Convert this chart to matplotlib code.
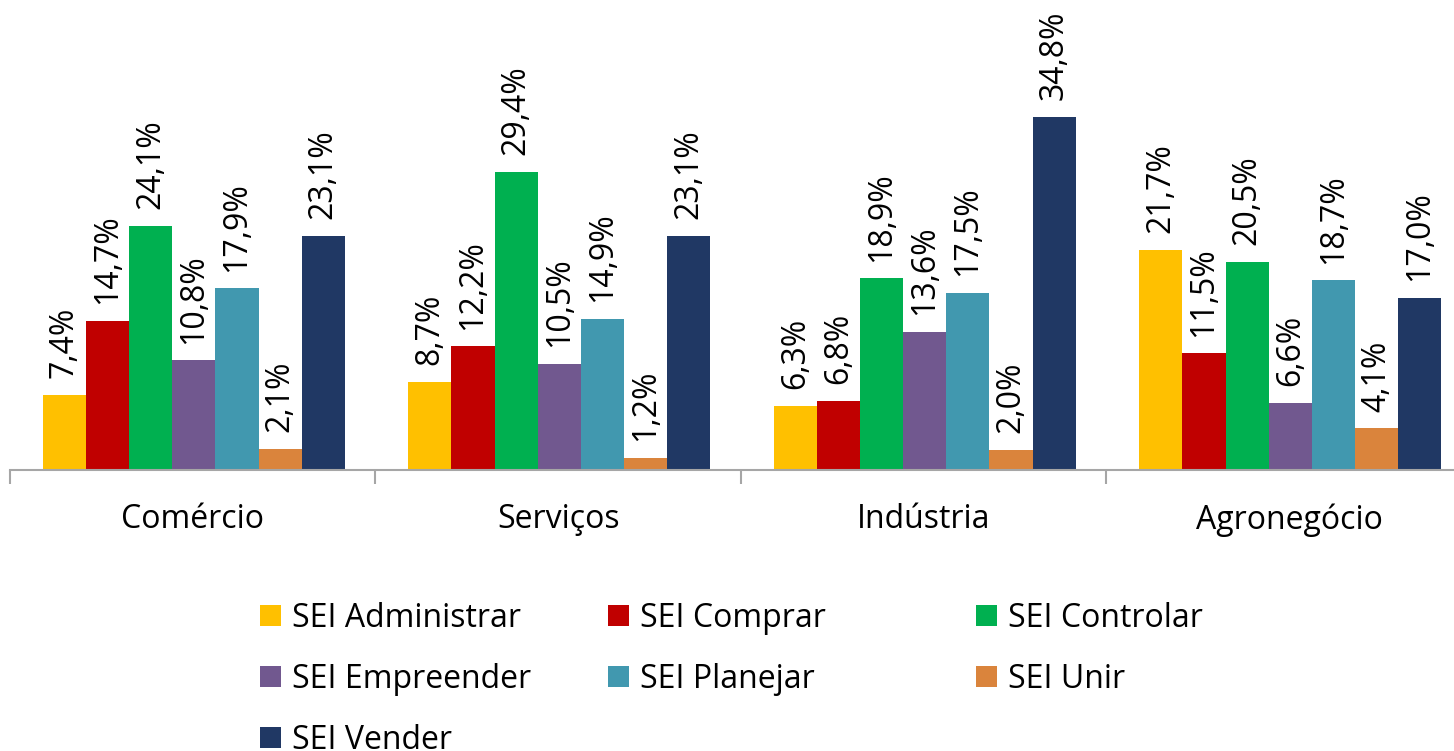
import matplotlib
matplotlib.use("Agg")
import matplotlib.pyplot as plt
import numpy as np

categories = ["Comércio", "Serviços", "Indústria", "Agronegócio"]
series = ["SEI Administrar", "SEI Comprar", "SEI Controlar",
          "SEI Empreender", "SEI Planejar", "SEI Unir", "SEI Vender"]
administrar = [7.4, 8.7, 6.3, 21.7]
comprar = [14.7, 12.2, 6.8, 11.5]
controlar = [24.1, 29.4, 18.9, 20.5]
empreender = [10.8, 10.5, 13.6, 6.6]
planejar = [17.9, 14.9, 17.5, 18.7]
unir = [2.1, 1.2, 2.0, 4.1]
vender = [23.1, 23.1, 34.8, 17.0]
values = [administrar, comprar, controlar, empreender, planejar, unir, vender]
colors = ["#FFC000", "#C00000", "#00B050", "#71588F", "#4198AF", "#DA843C", "#203864"]

plt.rcParams["font.family"] = ["Open Sans", "DejaVu Sans"]

fig = plt.figure(figsize=(14.54, 7.51), dpi=100)
ax = fig.add_axes([10 / 1454, 281 / 751, 1 - 10 / 1454, 470 / 751])

x = np.arange(len(categories))
w = 0.118
handles = []
for i, (name, vals, c) in enumerate(zip(series, values, colors)):
    pos = x - 0.5 + 0.09 + w * (i + 0.5)
    bars = ax.bar(pos, vals, width=w, color=c, label=name)
    handles.append(bars)
    for b, v in zip(bars, vals):
        ax.annotate(f"{v:.1f}%".replace(".", ","),
                    (b.get_x() + b.get_width() / 2, v),
                    xytext=(0, 12), textcoords="offset points",
                    rotation=90, ha="center", va="bottom", fontsize=23)

for s in ["top", "right", "left"]:
    ax.spines[s].set_visible(False)
ax.spines["bottom"].set_color("#A6A6A6")
ax.spines["bottom"].set_linewidth(1.5)
ax.set_yticks([])
ax.set_xticks(x)
ax.set_xticklabels(categories, fontsize=23)
ax.tick_params(axis="x", which="major", length=0, pad=24)
ax.set_xticks(np.arange(-0.5, 4, 1), minor=True)
ax.tick_params(axis="x", which="minor", length=10, width=1.5, color="#A6A6A6")
ax.set_xlim(-0.5, 3.451)
ax.set_ylim(0, 46.35)

# one legend per column, row by row like the original
columns = [[0, 3, 6], [1, 4], [2, 5]]
col_x = [260, 608, 976]
for idx, cx in zip(columns, col_x):
    fig.legend([handles[i] for i in idx], [series[i] for i in idx],
               loc="upper left", bbox_to_anchor=(cx / 1454, 1 - 602 / 751),
               frameon=False, fontsize=23, handlelength=0.65,
               handleheight=0.65, handletextpad=0.35,
               labelspacing=0.87, borderaxespad=0, borderpad=0)

fig.savefig("out.png", dpi=100)
